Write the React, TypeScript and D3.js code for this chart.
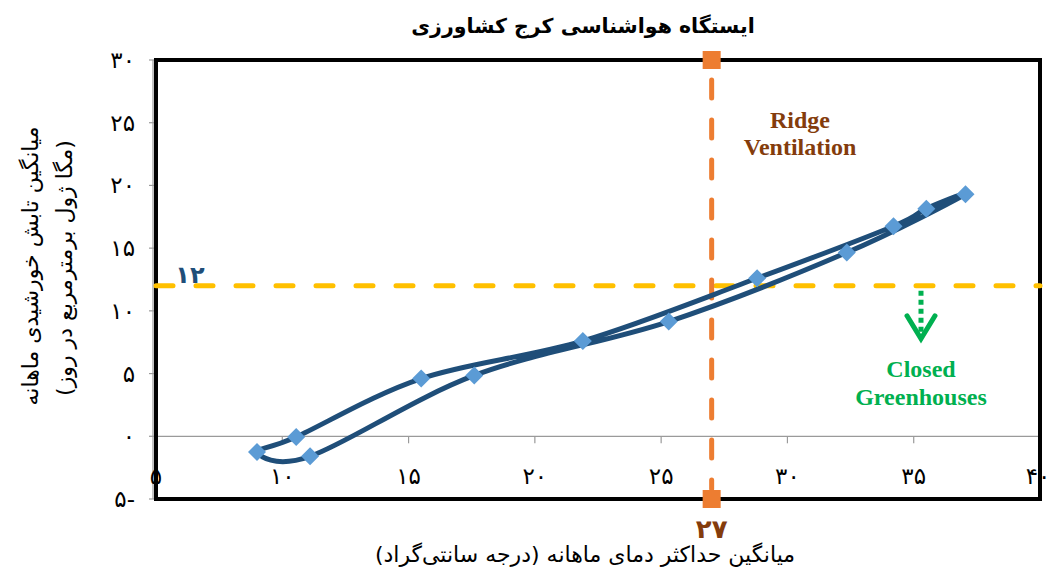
import React from "react";
import * as d3 from "d3";

const tempX = [9.0, 10.55, 15.5, 21.9, 28.8, 34.2, 35.5, 37.05, 32.35, 25.3, 17.6, 11.1];
const radY = [-1.25, -0.05, 4.6, 7.6, 12.6, 16.75, 18.15, 19.3, 14.65, 9.15, 4.85, -1.6];
const xTicks = [5, 10, 15, 20, 25, 30, 35, 40];
const yTicks = [-5, 0, 5, 10, 15, 20, 25, 30];
const thresholdY = 12;
const thresholdX = 27;

const title = "ایستگاه هواشناسی کرج کشاورزی";
const yTitle1 = "میانگین تابش خورشیدی ماهانه";
const yTitle2 = "(مگا ژول برمترمربع در روز)";
const xTitle = "میانگین حداکثر دمای ماهانه (درجه سانتی‌گراد)";

const fa = (n: number) => {
  const s = String(Math.abs(n)).replace(/[0-9]/g, (d) => "۰۱۲۳۴۵۶۷۸۹"[+d]);
  return n < 0 ? s + "-" : s;
};

const W = 1046, H = 572;
const L = 156, R = 1040, T = 60, B = 499;

export default function App() {
  const x = d3.scaleLinear().domain([5, 40]).range([L, R]);
  const y = d3.scaleLinear().domain([-5, 30]).range([B, T]);
  const pts: [number, number][] = tempX.map((t, i) => [x(t), y(radY[i])]);
  const line = d3.line().curve(d3.curveCardinalClosed.tension(0));
  const pathD = line(pts) || "";
  const faFont = "'DejaVu Sans', sans-serif";
  const serif = "'Liberation Serif', 'DejaVu Serif', serif";
  const vx = x(thresholdX);
  const hy = y(thresholdY);
  const ax = 921;
  return (
    <svg width={W} height={H} style={{ position: "absolute", left: 0, top: 0, background: "#fff" }}>
      <rect x={0} y={0} width={W} height={H} fill="#fff" />
      <text x={583} y={33} textAnchor="middle" fontFamily={faFont} fontWeight="bold" fontSize={20.5} fill="#000">{title}</text>
      {/* zero line */}
      <line x1={L} x2={R} y1={y(0)} y2={y(0)} stroke="#9a9a9a" strokeWidth={1.2} />
      {xTicks.map((t) => (
        <line key={"xt" + t} x1={x(t)} x2={x(t)} y1={y(0)} y2={y(0) + 7} stroke="#9a9a9a" strokeWidth={1.2} />
      ))}
      {yTicks.map((t) => (
        <line key={"yt" + t} x1={L - 7} x2={L} y1={y(t)} y2={y(t)} stroke="#9a9a9a" strokeWidth={1.2} />
      ))}
      {/* frame */}
      <rect x={L} y={T} width={R - L} height={B - T} fill="none" stroke="#000" strokeWidth={4} />
      <line x1={L - 3} x2={L - 3} y1={T} y2={B} stroke="#9a9a9a" strokeWidth={1.2} />
      {/* y tick labels */}
      {yTicks.map((t) => (
        <text key={"yl" + t} x={135} y={y(t) + 8} textAnchor="end" fontFamily={faFont} fontSize={23} fill="#000">{fa(t)}</text>
      ))}
      {/* x tick labels */}
      {xTicks.map((t) => (
        <text key={"xl" + t} x={t === 40 ? x(t) - 2 : x(t)} y={484} textAnchor="middle" fontFamily={faFont} fontSize={23} fill="#000">{fa(t)}</text>
      ))}
      {/* threshold lines */}
      <line x1={L} x2={R} y1={hy} y2={hy} stroke="#FFC000" strokeWidth={5} strokeDasharray="17 23" strokeLinecap="round" />
      <line x1={vx} x2={vx} y1={T + 20} y2={B - 10} stroke="#ED7D31" strokeWidth={5} strokeDasharray="18 22" strokeLinecap="round" />
      <rect x={vx - 9} y={T - 9} width={18} height={18} fill="#ED7D31" />
      <rect x={vx - 9} y={B - 9} width={18} height={18} fill="#ED7D31" />
      <text x={190} y={283} textAnchor="middle" fontFamily={faFont} fontWeight="bold" fontSize={24} fill="#1F4E79">{fa(thresholdY)}</text>
      <text x={vx} y={538} textAnchor="middle" fontFamily={faFont} fontWeight="bold" fontSize={26} fill="#843C0C">{fa(thresholdX)}</text>
      {/* data */}
      <path d={pathD} fill="none" stroke="#1F4E79" strokeWidth={5} />
      {pts.map((p, i) => (
        <path key={"m" + i} d={`M${p[0]},${p[1] - 9}L${p[0] + 9},${p[1]}L${p[0]},${p[1] + 9}L${p[0] - 9},${p[1]}Z`} fill="#5B9BD5" />
      ))}
      {/* annotations */}
      <text x={800} y={128} textAnchor="middle" fontFamily={serif} fontWeight="bold" fontSize={24} fill="#843C0C">Ridge</text>
      <text x={800} y={155} textAnchor="middle" fontFamily={serif} fontWeight="bold" fontSize={24} fill="#843C0C">Ventilation</text>
      <line x1={ax} x2={ax} y1={hy + 5} y2={hy + 50} stroke="#00B050" strokeWidth={5} strokeDasharray="5 4" />
      <path d={`M${ax - 14},${hy + 30}L${ax},${hy + 53}L${ax + 14},${hy + 30}`} fill="none" stroke="#00B050" strokeWidth={5} strokeLinecap="round" strokeLinejoin="miter" />
      <text x={921} y={377} textAnchor="middle" fontFamily={serif} fontWeight="bold" fontSize={24} fill="#00B050">Closed</text>
      <text x={921} y={405} textAnchor="middle" fontFamily={serif} fontWeight="bold" fontSize={24} fill="#00B050">Greenhouses</text>
      {/* axis titles */}
      <text x={585} y={562} textAnchor="middle" fontFamily={faFont} fontSize={22} fill="#000">{xTitle}</text>
      <g transform="translate(38,266) rotate(-90)">
        <text x={0} y={0} textAnchor="middle" fontFamily={faFont} fontSize={22} fill="#000">{yTitle1}</text>
      </g>
      <g transform="translate(72,268) rotate(-90)">
        <text x={0} y={0} textAnchor="middle" fontFamily={faFont} fontSize={22} fill="#000">{yTitle2}</text>
      </g>
    </svg>
  );
}
